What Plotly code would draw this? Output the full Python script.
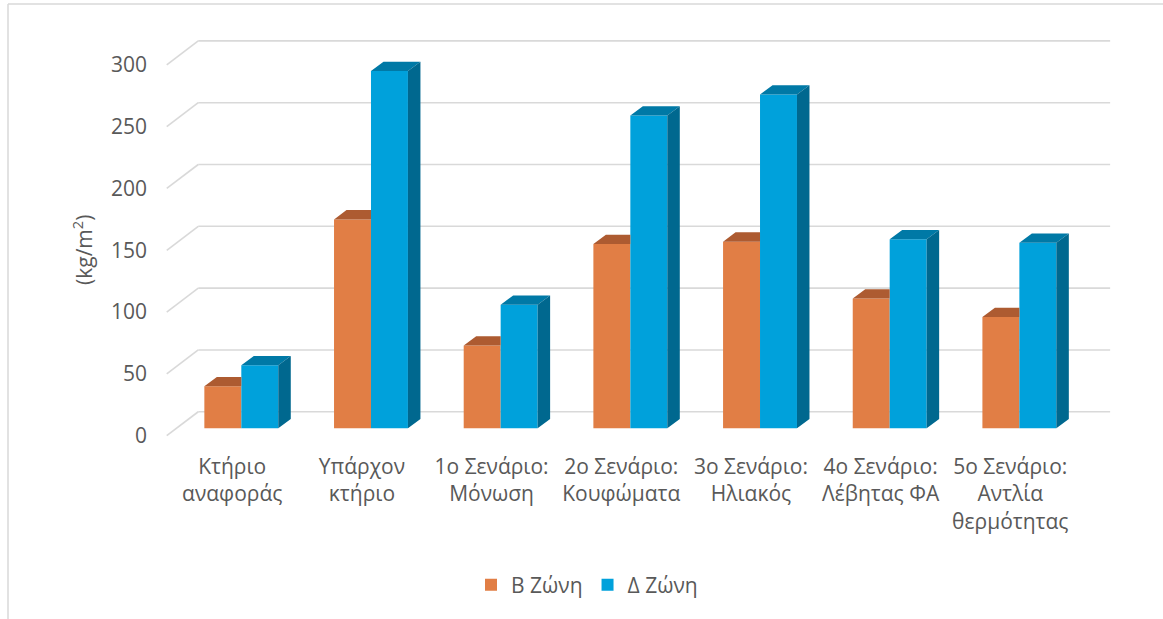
import plotly.graph_objects as go

# ---------------- data ----------------
categories = [
    "Κτήριο<br>αναφοράς",
    "Υπάρχον<br>κτήριο",
    "1ο Σενάριο:<br>Μόνωση",
    "2ο Σενάριο:<br>Κουφώματα",
    "3ο Σενάριο:<br>Ηλιακός",
    "4ο Σενάριο:<br>Λέβητας ΦΑ",
    "5ο Σενάριο:<br>Αντλία<br>θερμότητας",
]
series_names = ["Β Ζώνη", "Δ Ζώνη"]
b_zone = [34, 169, 67, 149, 151, 105, 90]
d_zone = [51, 289, 100, 253, 270, 153, 150]
y_ticks = [0, 50, 100, 150, 200, 250, 300]

# ---------------- styling ----------------
FONT = "Open Sans, Noto Sans, DejaVu Sans, sans-serif"
TXT = "#595959"
GRID = "#d9d9d9"
OR_FRONT, OR_TOP = "#E17E45", "#AD5B31"
BL_FRONT, BL_TOP, BL_SIDE = "#00A1DB", "#0079A6", "#00688F"

W = 0.285        # width of one bar (category units)
DX = 0.0964      # 3D depth offset, x (category units)
DY = 7.5         # 3D depth offset, y (data units)
BACK = 13.4      # back wall shift of gridlines (data units)
FRONT = -6.0     # front floor edge shift (data units)
X_BACK_L, X_FRONT_L, X_BACK_R = -0.332, -0.575, 6.70
LABEL_SHIFT = -0.07

n = len(categories)
idx = list(range(n))

fig = go.Figure()

# front faces
fig.add_trace(go.Bar(x=[i - W / 2 for i in idx], y=b_zone, width=W, name=series_names[0],
                     marker=dict(color=OR_FRONT, line=dict(width=0)), hoverinfo="skip"))
fig.add_trace(go.Bar(x=[i + W / 2 for i in idx], y=d_zone, width=W, name=series_names[1],
                     marker=dict(color=BL_FRONT, line=dict(width=0)), hoverinfo="skip"))

# orange tops (hidden part behind the blue bar clipped away)
xs, ys = [], []
for i, h in zip(idx, b_zone):
    xs += [i - W, i, i, i - W + DX, i - W, None]
    ys += [h, h, h + DY, h + DY, h, None]
fig.add_trace(go.Scatter(x=xs, y=ys, fill="toself", fillcolor=OR_TOP, mode="lines",
                         line=dict(width=0, color=OR_TOP), showlegend=False, hoverinfo="skip"))

# blue tops
xs, ys = [], []
for i, h in zip(idx, d_zone):
    xs += [i, i + W, i + W + DX, i + DX, i, None]
    ys += [h, h, h + DY, h + DY, h, None]
fig.add_trace(go.Scatter(x=xs, y=ys, fill="toself", fillcolor=BL_TOP, mode="lines",
                         line=dict(width=0, color=BL_TOP), showlegend=False, hoverinfo="skip"))

# blue sides
xs, ys = [], []
for i, h in zip(idx, d_zone):
    xs += [i + W, i + W, i + W + DX, i + W + DX, i + W, None]
    ys += [0, h, h + DY, DY, 0, None]
fig.add_trace(go.Scatter(x=xs, y=ys, fill="toself", fillcolor=BL_SIDE, mode="lines",
                         line=dict(width=0, color=BL_SIDE), showlegend=False, hoverinfo="skip"))

# gridlines (back wall + floor-side diagonals)
shapes = []
for g in y_ticks:
    shapes.append(dict(type="line", xref="x", yref="y", layer="below",
                       x0=X_BACK_L, x1=X_BACK_R, y0=g + BACK, y1=g + BACK,
                       line=dict(color=GRID, width=1.6)))
    shapes.append(dict(type="line", xref="x", yref="y", layer="below",
                       x0=X_FRONT_L, x1=X_BACK_L, y0=g + FRONT, y1=g + BACK,
                       line=dict(color=GRID, width=1.6)))

# chart area border (left + top)
L, R, T, B = 160, 1120, 30, 440
def px_x(p): return (p - L) / (R - L)
def px_y(p): return (B - p) / (B - T)
shapes.append(dict(type="line", xref="paper", yref="paper", x0=px_x(8), x1=px_x(8),
                   y0=px_y(4), y1=px_y(640), line=dict(color=GRID, width=1.5)))
shapes.append(dict(type="line", xref="paper", yref="paper", x0=px_x(8), x1=px_x(1180),
                   y0=px_y(4), y1=px_y(4), line=dict(color=GRID, width=1.5)))

fig.update_layout(
    width=1163, height=619,
    margin=dict(l=L, r=1163 - R, t=T, b=619 - B),
    paper_bgcolor="white", plot_bgcolor="white",
    barmode="overlay",
    font=dict(family=FONT, size=21, color=TXT),
    shapes=shapes,
    showlegend=True,
    legend=dict(orientation="h", x=px_x(587), xanchor="center", y=px_y(585), yanchor="middle",
                font=dict(size=21, color=TXT), bgcolor="rgba(0,0,0,0)"),
    annotations=[dict(text="(kg/m<sup>2</sup>)", xref="paper", yref="paper",
                      x=px_x(82), y=px_y(250), textangle=-90, showarrow=False,
                      font=dict(size=21, color=TXT), xanchor="center", yanchor="middle")],
)
fig.update_xaxes(range=[-0.627, 6.776], tickmode="array",
                 tickvals=[i + LABEL_SHIFT for i in idx], ticktext=categories,
                 showgrid=False, zeroline=False, showline=False, ticks="",
                 tickfont=dict(size=21, color=TXT), ticklabelstandoff=12)
fig.update_yaxes(range=[-9.46, 322.2], tickmode="array",
                 tickvals=[g + FRONT for g in y_ticks], ticktext=[str(g) for g in y_ticks],
                 showgrid=False, zeroline=False, showline=False, ticks="",
                 tickfont=dict(size=21, color=TXT), ticklabelstandoff=12)

fig.write_html("out.html")
